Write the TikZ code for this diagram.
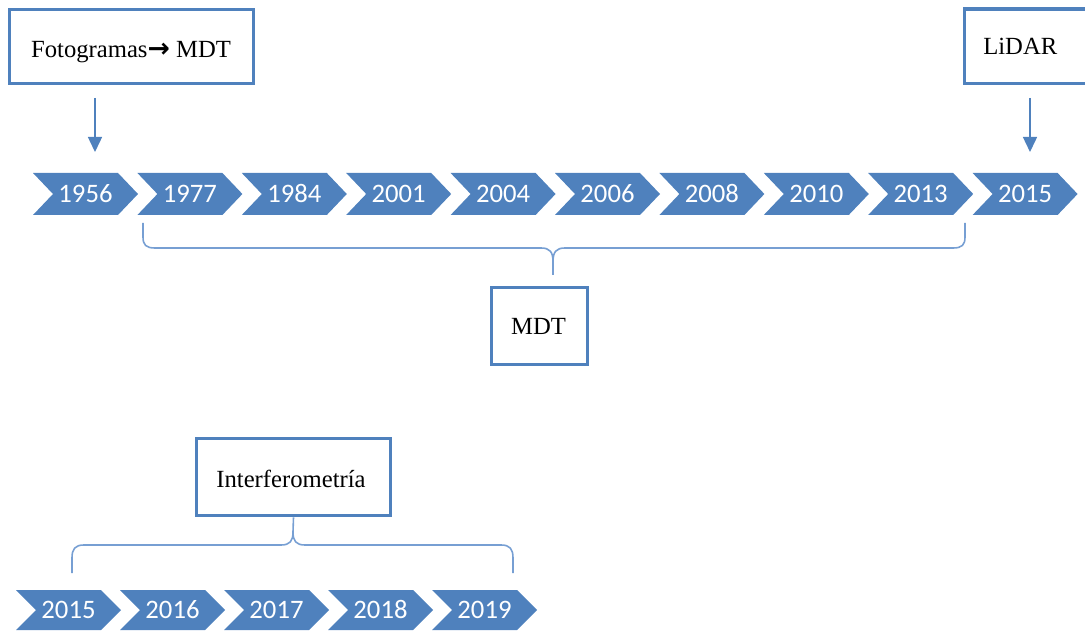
\documentclass[tikz,border=0pt]{standalone}
\usepackage{fontspec}
\setmainfont{Liberation Serif}
\newfontfamily\carl{Carlito}
\newfontfamily\djv{DejaVu Sans}
\usetikzlibrary{arrows.meta}
\definecolor{ofblue}{HTML}{4F81BD}
\definecolor{brblue}{HTML}{779FD3}
\begin{document}
\begin{tikzpicture}[x=0.75pt,y=-0.75pt,
  box/.style={draw=ofblue, line width=2.7pt, rectangle, inner sep=0pt, fill=white},
  btxt/.style={font=\fontsize{18.5}{22}\selectfont, inner sep=0pt},
  yr/.style={inner sep=0pt, outer sep=0pt, text=white, font=\carl\fontsize{20}{24}\selectfont,
    minimum width=78.75pt, text height=12.8pt, text depth=0pt},
  chev/.style={fill=ofblue},
  arr/.style={draw=ofblue, line width=1.1pt, -{Triangle[length=11.25pt,width=10.5pt]}},
  brace/.style={draw=brblue, line width=1.2pt},
]
\path[use as bounding box] (0,0) rectangle (1085,634);
\clip (0,0) rectangle (1085,634);

% top timeline
\foreach \i/\t in {0/1956,1/1977,2/1984,3/2001,4/2004,5/2006,6/2008,7/2010,8/2013,9/2015}{
  \pgfmathsetmacro\xc{85.5+104.4*\i}
  \fill[chev] (\xc-52.5,173) -- (\xc+32.5,173) -- (\xc+52.5,194) -- (\xc+32.5,215) -- (\xc-52.5,215) -- (\xc-32.5,194) -- cycle;
  \node[yr, minimum height=31.5pt] (t\i) at (\xc,194) {\t};
}

% bottom timeline
\foreach \i/\t in {0/2015,1/2016,2/2017,3/2018,4/2019}{
  \pgfmathsetmacro\xc{68.5+104*\i}
  \fill[chev] (\xc-52.5,590) -- (\xc+32.5,590) -- (\xc+52.5,610) -- (\xc+32.5,630) -- (\xc-52.5,630) -- (\xc-32.5,610) -- cycle;
  \node[yr, minimum height=30pt] (b\i) at (\xc,610) {\t};
}

% boxes
\node[box, minimum width=183pt, minimum height=55.5pt] (fot) at (131.5,46.5) {};
\node[btxt, anchor=base] (fottxt) at (131,58) {Fotogramas{\djv\bfseries\fontsize{20}{24}\selectfont →} MDT};

\node[box, minimum width=97.9pt, minimum height=55.9pt] (lidar) at (1029.75,46.25) {};
\node[btxt, anchor=base west] (lidartxt) at (983,55) {LiDAR};

\node[box, minimum width=72pt, minimum height=57.75pt] (mdt) at (539.5,326) {};
\node[btxt, anchor=base] (mdttxt) at (538.5,335) {MDT};

\node[box, minimum width=145.5pt, minimum height=57.75pt] (inf) at (293.5,477) {};
\node[btxt, anchor=base] (inftxt) at (291,487) {Interferometría};

% arrows
\coordinate (p1) at (95,98);
\coordinate (p2) at (1030,98);
\draw[arr, shorten >=15.75pt] (p1) -- (p1 |- t0.north);
\draw[arr, shorten >=15.75pt] (p2) -- (p2 |- t9.north);

% top brace
\draw[brace] (143,223) -- (143,237) .. controls (143,245) and (146,248) .. (155,248)
  -- (541,248) .. controls (550,248) and (553,252) .. (553,262) -- (553,275);
\draw[brace] (553,262) .. controls (553,252) and (556,248) .. (565,248)
  -- (953,248) .. controls (962,248) and (965,245) .. (965,237) -- (965,223);

% bottom brace
\draw[brace] (72,573) -- (72,558) .. controls (72,549) and (75,545) .. (84,545)
  -- (281,545) .. controls (290,545) and (293,541) .. (293,532) -- (inf.south);
\draw[brace] (293,532) .. controls (293,541) and (296,545) .. (305,545)
  -- (501,545) .. controls (510,545) and (513,549) .. (513,558) -- (513,573);
\end{tikzpicture}
\end{document}
